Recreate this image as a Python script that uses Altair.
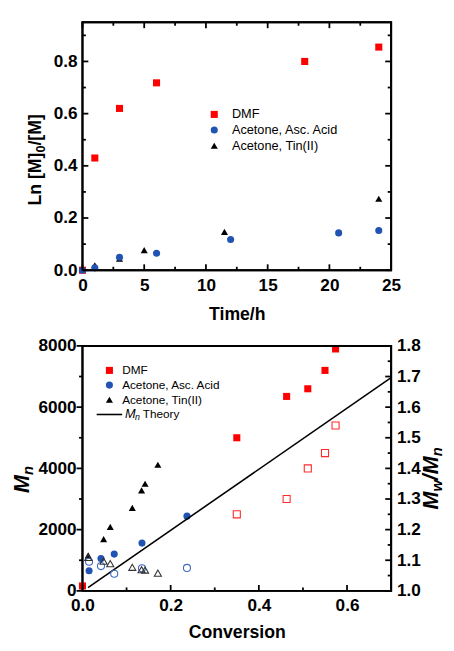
import altair as alt
import pandas as pd

# ---------------- data: top panel (kinetics) ----------------
time_dmf = [0, 1, 3, 6, 18, 24]
ln_dmf = [0.0, 0.43, 0.62, 0.718, 0.80, 0.855]
time_asc = [0, 1, 3, 6, 12, 20.75, 24]
ln_asc = [0.0, 0.009, 0.05, 0.065, 0.118, 0.143, 0.152]
time_tin = [1, 3, 5, 11.5, 24]
ln_tin = [0.019, 0.044, 0.077, 0.147, 0.274]

# ---------------- data: bottom panel (Mn, Mw/Mn vs conversion) ----------------
conv_dmf = [0.0, 0.35, 0.463, 0.511, 0.55, 0.574]
mn_dmf = [160, 5000, 6350, 6600, 7200, 7900]
conv_dmf_pdi = [0.35, 0.463, 0.511, 0.55, 0.574]
pdi_dmf = [1.25, 1.30, 1.40, 1.45, 1.54]
conv_asc = [0.015, 0.042, 0.072, 0.135, 0.237]
mn_asc = [655, 1055, 1200, 1560, 2440]
pdi_asc = [1.095, 1.081, 1.056, 1.074, 1.075]
conv_tin = [0.013, 0.048, 0.063, 0.113, 0.134, 0.142, 0.171]
mn_tin = [1160, 1690, 2090, 2710, 3280, 3500, 4120]
pdi_tin = [1.109, 1.097, 1.089, 1.077, 1.069, 1.068, 1.058]
conv_theory = [0.0125, 0.70]
mn_theory = [108, 6964]

series_labels = ["DMF", "Acetone, Asc. Acid", "Acetone, Tin(II)"]
theory_label = ["M", "n", "Theory"]

# tick values
top_x_major = [0, 5, 10, 15, 20, 25]
top_x_minor = [2.5, 7.5, 12.5, 17.5, 22.5]
top_y_major = [0.0, 0.2, 0.4, 0.6, 0.8]
top_y_minor = [0.1, 0.3, 0.5, 0.7, 0.9]
bot_x_major = [0.0, 0.2, 0.4, 0.6]
bot_x_minor = [0.1, 0.3, 0.5]
mn_major = [0, 2000, 4000, 6000, 8000]
mn_minor = [1000, 3000, 5000, 7000]
pdi_major = [1.0, 1.1, 1.2, 1.3, 1.4, 1.5, 1.6, 1.7, 1.8]
pdi_minor = [1.05, 1.15, 1.25, 1.35, 1.45, 1.55, 1.65, 1.75]

# ---------------- styles ----------------
RED = "#ff0000"
BLUE = "#2153b3"
BLACK = "#000000"
STY = {
    "DMF": dict(shape="square", color=RED, open_color="#ff2a2a"),
    "Acetone, Asc. Acid": dict(shape="circle", color=BLUE, open_color="#3d69c6"),
    "Acetone, Tin(II)": dict(shape="triangle-up", color=BLACK, open_color="#333333"),
}
FONT = "Liberation Sans"
W, H1, H2 = 315, 253, 250
MSIZE = 52
TW = 1.8  # tick width
MAJ, MIN = 6, 3.5  # tick lengths (px)

TOP_X, TOP_Y = [0, 25], [0, 0.95]
BOT_X, MN_Y, PDI_Y = [0, 0.7], [0, 8000], [1.0, 1.8]
x_top = alt.Scale(domain=TOP_X, nice=False, zero=False)
y_top = alt.Scale(domain=TOP_Y, nice=False, zero=False)
x_bot = alt.Scale(domain=BOT_X, nice=False, zero=False)
y_mn = alt.Scale(domain=MN_Y, nice=False, zero=False)
y_pdi = alt.Scale(domain=PDI_Y, nice=False, zero=False)


def pts(xv, yv, xs, ys, label, filled, xaxis=None, yaxis=None):
    st = STY[label]
    df = pd.DataFrame({"x": xv, "y": yv})
    if filled:
        mk = alt.Chart(df).mark_point(shape=st["shape"], filled=True, color=st["color"],
                                      size=MSIZE, opacity=1)
    else:
        mk = alt.Chart(df).mark_point(shape=st["shape"], filled=False, color=st["open_color"],
                                      strokeWidth=1.1, size=MSIZE, opacity=1)
    return mk.encode(x=alt.X("x:Q", scale=xs, axis=xaxis), y=alt.Y("y:Q", scale=ys, axis=yaxis))


class TickSet:
    """Collects tick segments (2 rows each) in data units, drawn as short lines."""

    def __init__(self, xdom, ydom, w, h):
        self.xdom, self.ydom, self.w, self.h = xdom, ydom, w, h
        self.rows = []
        self.k = 0

    def vert(self, values, at, length):
        span = self.ydom[1] - self.ydom[0]
        d = length / self.h * span * (1 if at == self.ydom[0] else -1)
        for v in values:
            self.rows += [dict(x=v, y=at, k=self.k), dict(x=v, y=at + d, k=self.k)]
            self.k += 1

    def horiz(self, values, at, length):
        span = self.xdom[1] - self.xdom[0]
        d = length / self.w * span * (1 if at == self.xdom[0] else -1)
        for v in values:
            self.rows += [dict(x=at, y=v, k=self.k), dict(x=at + d, y=v, k=self.k)]
            self.k += 1

    def chart(self, xs, ys):
        return alt.Chart(pd.DataFrame(self.rows)).mark_line(
            color="black", strokeWidth=TW, strokeCap="butt").encode(
            x=alt.X("x:Q", scale=xs, axis=None), y=alt.Y("y:Q", scale=ys, axis=None),
            detail="k:N")


def frame(xdom, ydom, xs, ys):
    df = pd.DataFrame({
        "x": [xdom[0], xdom[1], xdom[1], xdom[0], xdom[0]],
        "y": [ydom[0], ydom[0], ydom[1], ydom[1], ydom[0]],
        "i": [0, 1, 2, 3, 4],
    })
    return alt.Chart(df).mark_line(color="black", strokeWidth=2, strokeJoin="miter").encode(
        x=alt.X("x:Q", scale=xs, axis=None), y=alt.Y("y:Q", scale=ys, axis=None),
        order="i:Q")


def txt(s, x, y, size, dx=0, dy=0, italic=False, bold=True, angle=0, align="left",
        baseline="alphabetic"):
    kw = dict(font=FONT, fontSize=size, dx=dx, dy=dy, align=align, baseline=baseline,
              color="black", fontWeight="bold" if bold else "normal")
    if italic:
        kw["fontStyle"] = "italic"
    if angle:
        kw["angle"] = angle
    return alt.Chart(pd.DataFrame({"t": [s]})).mark_text(**kw).encode(
        x=alt.value(x), y=alt.value(y), text="t:N")


def legend_symbol(label, x, y):
    st = STY[label]
    return alt.Chart(pd.DataFrame({"t": [label]})).mark_point(
        shape=st["shape"], filled=True, color=st["color"], size=MSIZE, opacity=1
    ).encode(x=alt.value(x), y=alt.value(y))


# ---------------- top panel ----------------
tt = TickSet(TOP_X, TOP_Y, W, H1)
tt.vert(top_x_major, TOP_Y[0], MAJ)
tt.vert(top_x_minor, TOP_Y[0], MIN)
tt.vert(top_x_major, TOP_Y[1], MAJ)
tt.vert(top_x_minor, TOP_Y[1], MIN)
tt.horiz(top_y_major, TOP_X[0], MAJ)
tt.horiz(top_y_minor, TOP_X[0], MIN)
tt.horiz(top_y_major, TOP_X[1], MAJ)
tt.horiz(top_y_minor, TOP_X[1], MIN)

top_layers = [
    pts(time_dmf, ln_dmf, x_top, y_top, "DMF", True,
        xaxis=alt.Axis(orient="bottom", values=top_x_major, format="d", ticks=False,
                       title="Time/h", labelPadding=6.5, titlePadding=12, labelFlush=False),
        yaxis=alt.Axis(orient="left", values=top_y_major, format=".1f", ticks=False,
                       title=None, labelPadding=5.5, labelFlush=False)),
    pts(time_tin, ln_tin, x_top, y_top, "Acetone, Tin(II)", True),
    pts(time_asc, ln_asc, x_top, y_top, "Acetone, Asc. Acid", True),
    tt.chart(x_top, y_top),
    frame(TOP_X, TOP_Y, x_top, y_top),
]
for i, lab in enumerate(series_labels):
    top_layers.append(legend_symbol(lab, 134.5, 94 + 16 * i))
    top_layers.append(txt(lab, 152.5, 94 + 16 * i, 13, bold=False, baseline="middle"))
# y title: Ln [M]0/[M]
top_layers += [
    txt("Ln [M]", -42.5, 187, 18, angle=270),
    txt("0", -42.5, 187, 13, dx=54.0, dy=4, angle=270),
    txt("/[M]", -42.5, 187, 18, dx=61.2, angle=270),
]
top = alt.layer(*top_layers).resolve_axis(x="independent", y="independent").properties(
    width=W, height=H1)

# ---------------- bottom panel ----------------
tm = TickSet(BOT_X, MN_Y, W, H2)
tm.vert(bot_x_major, MN_Y[0], MAJ)
tm.vert(bot_x_minor, MN_Y[0], MIN)
tm.horiz(mn_major, BOT_X[0], -MAJ)   # outward on the left
tm.horiz(mn_minor, BOT_X[0], -MIN)
tp = TickSet(BOT_X, PDI_Y, W, H2)
tp.horiz(pdi_major, BOT_X[1], MAJ)
tp.horiz(pdi_minor, BOT_X[1], MIN)

bot_layers = [
    pts(conv_dmf, mn_dmf, x_bot, y_mn, "DMF", True,
        xaxis=alt.Axis(orient="bottom", values=bot_x_major, format=".1f", ticks=False,
                       title="Conversion", labelPadding=6.5, titlePadding=10, labelFlush=False),
        yaxis=alt.Axis(orient="left", values=mn_major, format="d", ticks=False,
                       title=None, labelPadding=6.5, labelFlush=False)),
    pts(conv_asc, mn_asc, x_bot, y_mn, "Acetone, Asc. Acid", True),
    pts(conv_tin, mn_tin, x_bot, y_mn, "Acetone, Tin(II)", True),
    alt.Chart(pd.DataFrame({"x": conv_theory, "y": mn_theory})).mark_line(
        color="black", strokeWidth=1.6).encode(
        x=alt.X("x:Q", scale=x_bot, axis=None), y=alt.Y("y:Q", scale=y_mn, axis=None)),
    pts(conv_dmf_pdi, pdi_dmf, x_bot, y_pdi, "DMF", False,
        yaxis=alt.Axis(orient="right", values=pdi_major, format=".1f", ticks=False,
                       title=None, labelPadding=5.5, labelFlush=False)),
    pts(conv_asc, pdi_asc, x_bot, y_pdi, "Acetone, Asc. Acid", False),
    pts(conv_tin, pdi_tin, x_bot, y_pdi, "Acetone, Tin(II)", False),
    tm.chart(x_bot, y_mn),
    tp.chart(x_bot, y_pdi),
    frame(BOT_X, MN_Y, x_bot, y_mn),
]
for i, lab in enumerate(series_labels):
    bot_layers.append(legend_symbol(lab, 27.5, 25 + 15 * i))
    bot_layers.append(txt(lab, 40.5, 25 + 15 * i, 12, bold=False, baseline="middle"))
bot_layers += [
    alt.Chart(pd.DataFrame({"t": ["theory"]})).mark_rule(color="black", strokeWidth=1.6).encode(
        x=alt.value(14.5), x2=alt.value(40.5), y=alt.value(70)),
    txt(theory_label[0], 43.5, 70, 13, bold=False, italic=True, baseline="middle"),
    txt(theory_label[1], 53.5, 70, 9, dy=3, bold=False, italic=True, baseline="middle"),
    txt(theory_label[2], 61.5, 70, 12, bold=False, baseline="middle"),
    # left title: Mn
    txt("M", -55, 150, 22, italic=True, angle=270),
    txt("n", -55, 150, 15, dx=18.3, dy=5, italic=True, angle=270),
    # right title: Mw/Mn
    txt("M", 363, 167, 22, italic=True, angle=270),
    txt("w", 363, 167, 15, dx=18.3, dy=3.5, italic=True, angle=270),
    txt("/M", 363, 167, 22, dx=30.0, italic=True, angle=270),
    txt("n", 363, 167, 15, dx=54.4, dy=3.5, italic=True, angle=270),
]
bottom = alt.layer(*bot_layers).resolve_scale(y="independent").resolve_axis(
    x="independent", y="independent").properties(width=W, height=H2)

chart = alt.vconcat(top, bottom, spacing=12.25).properties(
    padding={"left": 2, "top": 3, "right": 0, "bottom": 0}
).configure_view(stroke="black", strokeWidth=2).configure_axis(
    labelFont=FONT, labelFontSize=17.5, labelFontWeight="bold", labelColor="black",
    titleFont=FONT, titleFontSize=18, titleFontWeight="bold", titleColor="black",
    grid=False, domain=False, labelFlush=False
)

chart.save("out.html", embed_options={"renderer": "svg", "actions": False})
